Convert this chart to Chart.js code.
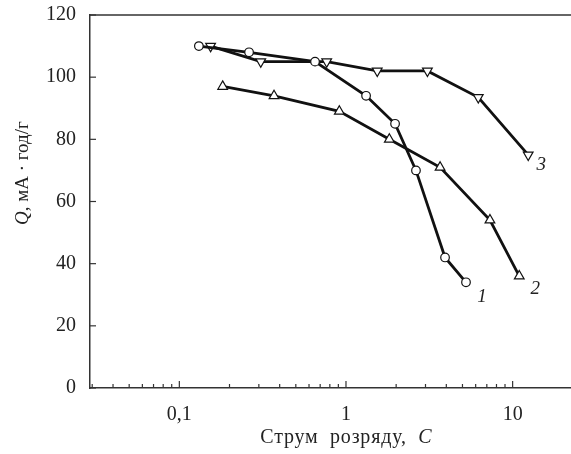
<!DOCTYPE html>
<html>
<head>
<meta charset="utf-8">
<script src="https://cdn.jsdelivr.net/npm/chart.js@4/dist/chart.umd.min.js"></script>
<style>
  html, body { margin: 0; padding: 0; background: #fff; }
  #wrap { width: 571px; height: 454px; }
</style>
</head>
<body>
<div id="wrap"><canvas id="capChart" width="571" height="454"></canvas></div>
<script>
// Дані кривих (струм розряду, C -> ємність, мА·год/г)
const current1 = [0.131, 0.262, 0.652, 1.32, 1.97, 2.63, 3.93, 5.25];
const capacity1 = [110, 108, 105, 94, 85, 70, 42, 34];
const current2 = [0.182, 0.37, 0.912, 1.82, 3.67, 7.31, 10.96];
const capacity2 = [97, 94, 89, 80, 71, 54, 36];
const current3 = [0.154, 0.308, 0.766, 1.54, 3.08, 6.22, 12.4];
const capacity3 = [110, 105, 105, 102, 102, 93.5, 75];
const curveLabels = ['1', '2', '3'];

const xMajorTicks = [0.1, 1, 10];
const xTickLabels = ['0,1', '1', '10'];
const yTicks = [0, 20, 40, 60, 80, 100, 120];

const FONT = '"Liberation Serif", "DejaVu Serif", serif';
const INK = '#222';

function toPoints(xs, ys) {
    return xs.map((x, i) => ({ x: x, y: ys[i] }));
}

function curve(xs, ys, style, rot) {
    return {
        data: toPoints(xs, ys),
        showLine: true,
        borderColor: '#111',
        borderWidth: 2.8,
        pointStyle: style,
        rotation: rot,
        pointRadius: style === 'circle' ? 4.3 : 5.6,
        pointBorderWidth: 1.2,
        pointBorderColor: '#111',
        pointBackgroundColor: '#fff',
        tension: 0
    };
}

// Рамка, засічки та підписи
const decorPlugin = {
    id: 'decor',
    afterDraw(chart) {
        const ctx = chart.ctx;
        const a = chart.chartArea;
        const xs = chart.scales.x;
        const ys = chart.scales.y;
        ctx.save();
        ctx.strokeStyle = '#333';
        ctx.lineWidth = 1.5;
        // верхня лінія
        ctx.beginPath();
        ctx.moveTo(a.left, a.top);
        ctx.lineTo(a.right, a.top);
        ctx.stroke();

        ctx.lineWidth = 1.2;
        // засічки осі x
        for (let d = -2; d <= 0; d++) {
            for (let m = 1; m <= 9; m++) {
                const v = m * Math.pow(10, d);
                if (v < xs.min || v > xs.max) continue;
                const px = xs.getPixelForValue(v);
                const len = m === 1 ? 7 : 4;
                ctx.beginPath();
                ctx.moveTo(px, a.bottom);
                ctx.lineTo(px, a.bottom - len);
                ctx.stroke();
            }
        }
        const p10 = xs.getPixelForValue(10);
        ctx.beginPath();
        ctx.moveTo(p10, a.bottom);
        ctx.lineTo(p10, a.bottom - 7);
        ctx.stroke();
        // засічки осі y
        yTicks.forEach(v => {
            const py = ys.getPixelForValue(v);
            ctx.beginPath();
            ctx.moveTo(a.left, py);
            ctx.lineTo(a.left + 6, py);
            ctx.stroke();
        });

        ctx.fillStyle = INK;
        // назва осі x
        const t1 = 'Струм  розряду,  ';
        const t2 = 'C';
        ctx.letterSpacing = '0.8px';
        ctx.font = '20px ' + FONT;
        const w1 = ctx.measureText(t1).width;
        ctx.font = 'italic 20px ' + FONT;
        const w2 = ctx.measureText(t2).width;
        const xc = a.left + (a.right - a.left) * 0.533;
        let x0 = xc - (w1 + w2) / 2;
        ctx.textBaseline = 'alphabetic';
        ctx.textAlign = 'left';
        ctx.font = '20px ' + FONT;
        ctx.fillText(t1, x0, 443);
        ctx.font = 'italic 20px ' + FONT;
        ctx.fillText(t2, x0 + w1, 443);
        ctx.letterSpacing = '0px';

        // назва осі y
        const parts = [['italic', 'Q'], ['', ', мА · год/г']];
        ctx.save();
        ctx.translate(28, a.top + (a.bottom - a.top) * 0.424);
        ctx.rotate(-Math.PI / 2);
        let total = 0;
        parts.forEach(p => {
            ctx.font = (p[0] ? p[0] + ' ' : '') + '19px ' + FONT;
            total += ctx.measureText(p[1]).width;
        });
        let cx = -total / 2;
        parts.forEach(p => {
            ctx.font = (p[0] ? p[0] + ' ' : '') + '19px ' + FONT;
            ctx.fillText(p[1], cx, 0);
            cx += ctx.measureText(p[1]).width;
        });
        ctx.restore();

        // номери кривих
        ctx.font = 'italic 19px ' + FONT;
        ctx.textAlign = 'center';
        ctx.textBaseline = 'middle';
        const offs = [[16, 15], [16, 13], [13, 10]];
        chart.data.datasets.forEach((ds, i) => {
            const last = ds.data[ds.data.length - 1];
            const px = xs.getPixelForValue(last.x) + offs[i][0];
            const py = ys.getPixelForValue(last.y) + offs[i][1];
            ctx.fillText(curveLabels[i], px, py);
        });
        ctx.restore();
    }
};

const config = {
    type: 'scatter',
    data: {
        datasets: [
            curve(current1, capacity1, 'circle', 0),
            curve(current2, capacity2, 'triangle', 0),
            curve(current3, capacity3, 'triangle', 180)
        ]
    },
    options: {
        responsive: false,
        animation: false,
        layout: { autoPadding: false, padding: { top: 15, right: 0, left: 0, bottom: 0 } },
        plugins: {
            legend: { display: false },
            tooltip: { enabled: false }
        },
        scales: {
            x: {
                type: 'logarithmic',
                min: 0.0291,
                max: 22.4,
                afterBuildTicks(scale) {
                    scale.ticks = xMajorTicks.map(v => ({ value: v }));
                },
                afterFit(scale) {
                    scale.height = 66;
                    scale.paddingLeft = 0;
                    scale.paddingRight = 0;
                },
                grid: { display: true, drawOnChartArea: false, drawTicks: false, color: '#333' },
                border: { display: true, color: '#333', width: 1.5 },
                ticks: {
                    padding: 15,
                    color: INK,
                    font: { family: FONT, size: 20 },
                    maxRotation: 0,
                    autoSkip: false,
                    callback(value) {
                        const i = xMajorTicks.indexOf(value);
                        return i >= 0 ? xTickLabels[i] : '';
                    }
                }
            },
            y: {
                min: 0,
                max: 120,
                afterBuildTicks(scale) {
                    scale.ticks = yTicks.map(v => ({ value: v }));
                },
                afterFit(scale) {
                    scale.width = 90;
                    scale.paddingTop = 0;
                    scale.paddingBottom = 0;
                },
                grid: { display: true, drawOnChartArea: false, drawTicks: false, color: '#333' },
                border: { display: true, color: '#333', width: 1.5 },
                ticks: {
                    padding: 14,
                    color: INK,
                    font: { family: FONT, size: 20 }
                }
            }
        }
    },
    plugins: [decorPlugin]
};

const chartCanvas = document.getElementById('capChart');
new Chart(chartCanvas.getContext('2d'), config);
</script>
</body>
</html>
